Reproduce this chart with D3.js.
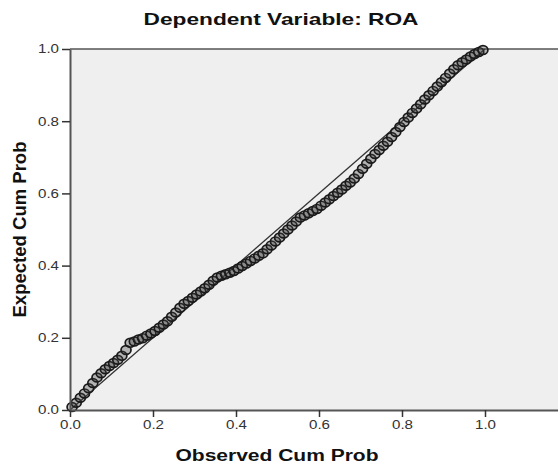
<!DOCTYPE html>
<html lang="en">
<head>
  <meta charset="UTF-8">
  <title>Normal P-P Plot</title>
  <style>
    body { margin: 0; background: #fff; }
    text { font-family: "Liberation Sans", Arial, sans-serif; }
  </style>
</head>
<body>
  <svg></svg>
  <script src="https://cdn.jsdelivr.net/npm/d3@7"></script>
  <script>
    // observed cumulative probability (x) and expected cumulative probability (y)
    const observed = [
      0.005, 0.015, 0.025, 0.035, 0.045, 0.055, 0.065, 0.075, 0.085, 0.095,
      0.105, 0.115, 0.125, 0.135, 0.145, 0.155, 0.165, 0.175, 0.185, 0.195,
      0.205, 0.215, 0.225, 0.235, 0.245, 0.255, 0.265, 0.275, 0.285, 0.295,
      0.305, 0.315, 0.325, 0.335, 0.345, 0.355, 0.365, 0.375, 0.385, 0.395,
      0.405, 0.415, 0.425, 0.435, 0.445, 0.455, 0.465, 0.475, 0.485, 0.495,
      0.505, 0.515, 0.525, 0.535, 0.545, 0.555, 0.565, 0.575, 0.585, 0.595,
      0.605, 0.615, 0.625, 0.635, 0.645, 0.655, 0.665, 0.675, 0.685, 0.695,
      0.705, 0.715, 0.725, 0.735, 0.745, 0.755, 0.765, 0.775, 0.785, 0.795,
      0.805, 0.815, 0.825, 0.835, 0.845, 0.855, 0.865, 0.875, 0.885, 0.895,
      0.905, 0.915, 0.925, 0.935, 0.945, 0.955, 0.965, 0.975, 0.985, 0.995
    ]
    const expected = [
      0.008, 0.020, 0.034, 0.046, 0.060, 0.075, 0.090, 0.102, 0.113, 0.122,
      0.130, 0.139, 0.150, 0.166, 0.186, 0.190, 0.195, 0.199, 0.206, 0.212,
      0.219, 0.228, 0.237, 0.246, 0.258, 0.270, 0.283, 0.294, 0.302, 0.311,
      0.320, 0.328, 0.337, 0.347, 0.358, 0.367, 0.372, 0.376, 0.380, 0.385,
      0.392, 0.399, 0.406, 0.413, 0.420, 0.427, 0.434, 0.445, 0.456, 0.467,
      0.478, 0.489, 0.500, 0.511, 0.522, 0.533, 0.539, 0.545, 0.551, 0.557,
      0.566, 0.575, 0.584, 0.593, 0.602, 0.611, 0.621, 0.630, 0.641, 0.654,
      0.668, 0.682, 0.696, 0.709, 0.720, 0.732, 0.743, 0.756, 0.770, 0.784,
      0.798, 0.810, 0.823, 0.835, 0.847, 0.860, 0.872, 0.884, 0.896, 0.908,
      0.920, 0.932, 0.944, 0.955, 0.963, 0.971, 0.979, 0.986, 0.992, 0.997
    ]
    const ticks = [0, 0.2, 0.4, 0.6, 0.8, 1.0]

    var width = 558
    var height = 470
    var mLeft = 70, mTop = 49, mBottom = 410
    var stretch = 1.26   // the source picture is a bit wider than tall

    var svg = d3.select("svg")
              .attr("width", width)
              .attr("height", height)

    var x = d3.scaleLinear()
            .domain([0, (width - mLeft) / 415])
            .range([mLeft, width])
    var y = d3.scaleLinear()
            .domain([0, 1])
            .range([mBottom, mTop])

    // plot background
    svg.append("rect")
      .attr("x", mLeft).attr("y", mTop)
      .attr("width", width - mLeft).attr("height", mBottom - mTop)
      .attr("fill", "#efefef")

    // top border
    svg.append("line")
      .attr("x1", mLeft).attr("x2", width)
      .attr("y1", mTop).attr("y2", mTop)
      .attr("stroke", "#555").attr("stroke-width", 1.5)

    // reference line
    svg.append("line")
      .attr("x1", x(0)).attr("y1", y(0))
      .attr("x2", x(1)).attr("y2", y(1))
      .attr("stroke", "#333").attr("stroke-width", 1.3)

    svg.append("g")
      .selectAll("ellipse")
      .data(observed.map((d, i) => [d, expected[i]]))
      .join("ellipse")
      .attr("cx", d => x(d[0]))
      .attr("cy", d => y(d[1]))
      .attr("rx", 5)
      .attr("ry", 4.4)
      .attr("fill", "rgba(70,70,70,0.35)")
      .attr("stroke", "#1a1a1a")
      .attr("stroke-width", 1.7)

    var xAxis = svg.append("g")
      .attr("transform", `translate(0, ${mBottom})`)
      .call(d3.axisBottom(x).tickValues(ticks).tickFormat(d3.format(".1f")).tickSize(7).tickSizeOuter(0))
    var yAxis = svg.append("g")
      .attr("transform", `translate(${mLeft}, 0)`)
      .call(d3.axisLeft(y).tickValues(ticks).tickFormat(d3.format(".1f")).tickSize(8).tickSizeOuter(0))

    ;[xAxis, yAxis].forEach(g => {
      g.select(".domain").attr("stroke", "#555").attr("stroke-width", 2)
      g.selectAll(".tick line").attr("stroke", "#333").attr("stroke-width", 1.5)
      g.selectAll(".tick text")
        .attr("fill", "#333")
        .style("font-size", "12px")
        .style("font-family", "'Liberation Sans', Arial, sans-serif")
    })
    xAxis.selectAll(".tick text").attr("y", 10).attr("dy", "0.71em")
    yAxis.selectAll(".tick text").attr("x", -11)

    // widen the glyphs around their anchor, like the source picture
    function widen(sel) {
      sel.each(function() {
        var t = d3.select(this)
        var ax = +t.attr("x") || 0, ay = +t.attr("y") || 0
        t.attr("transform", `translate(${ax},${ay}) scale(${stretch},1) translate(${-ax},${-ay})`)
      })
    }
    widen(xAxis.selectAll(".tick text"))
    widen(yAxis.selectAll(".tick text"))

    svg.append("text")
      .attr("x", 281).attr("y", 25)
      .attr("text-anchor", "middle")
      .attr("textLength", 275).attr("lengthAdjust", "spacingAndGlyphs")
      .style("font-size", "17px").style("font-weight", "bold")
      .attr("fill", "#111")
      .text("Dependent Variable: ROA")

    svg.append("text")
      .attr("x", 277).attr("y", 461)
      .attr("text-anchor", "middle")
      .attr("textLength", 203).attr("lengthAdjust", "spacingAndGlyphs")
      .style("font-size", "16px").style("font-weight", "bold")
      .attr("fill", "#111")
      .text("Observed Cum Prob")

    svg.append("text")
      .attr("transform", `translate(26, ${(mTop + mBottom) / 2}) scale(${stretch},1) rotate(-90)`)
      .attr("text-anchor", "middle")
      .attr("textLength", 176).attr("lengthAdjust", "spacingAndGlyphs")
      .style("font-size", "15px").style("font-weight", "bold")
      .attr("fill", "#111")
      .text("Expected Cum Prob")
  </script>
</body>
</html>
